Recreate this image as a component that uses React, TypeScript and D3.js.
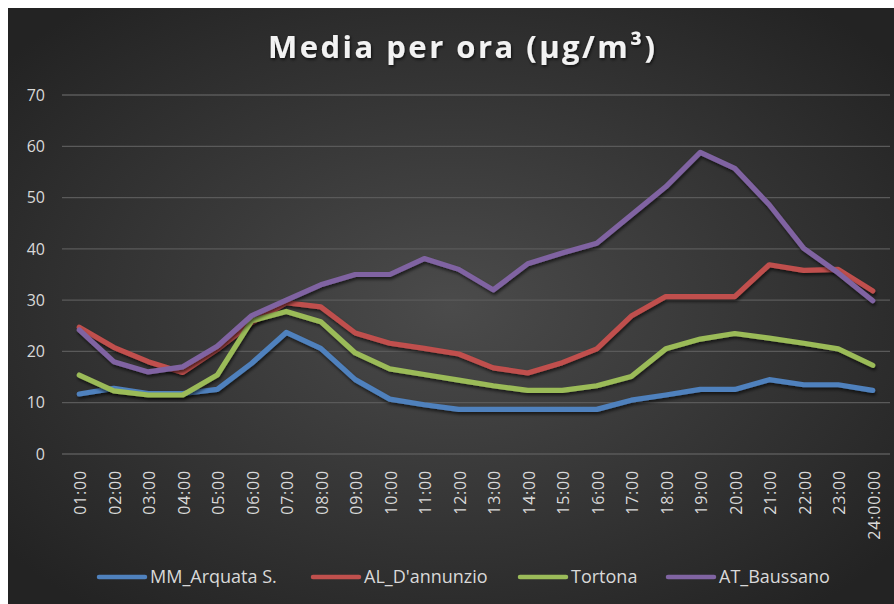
import React from "react";
import * as d3 from "d3";

const hours = ["01:00","02:00","03:00","04:00","05:00","06:00","07:00","08:00","09:00","10:00","11:00","12:00","13:00","14:00","15:00","16:00","17:00","18:00","19:00","20:00","21:00","22:00","23:00","24:00:00"];
const seriesNames = ["MM_Arquata S.", "AL_D'annunzio", "Tortona", "AT_Baussano"];
const seriesColors = ["#4F81BD", "#C0504D", "#9BBB59", "#8064A2"];
const arquata = [11.7,12.8,11.8,11.8,12.6,17.7,23.7,20.6,14.5,10.7,9.6,8.7,8.7,8.7,8.7,8.7,10.5,11.5,12.6,12.6,14.5,13.5,13.5,12.4];
const dannunzio = [24.7,20.8,18,15.9,20.4,25.6,29.5,28.7,23.6,21.6,20.6,19.5,16.8,15.8,17.8,20.5,26.9,30.7,30.7,30.7,36.9,35.8,36,31.8];
const tortona = [15.4,12.3,11.5,11.5,15.4,26,27.8,25.8,19.7,16.6,15.5,14.4,13.3,12.4,12.4,13.3,15.1,20.5,22.4,23.5,22.6,21.6,20.5,17.3];
const baussano = [24.2,18,16,17,21,27,30,33,35,35,38.1,36,32,37.1,39.2,41.1,46.6,52.1,58.8,55.7,48.6,40.1,35.3,29.9];
const yTicks = [0,10,20,30,40,50,60,70];
const legendX = [99, 313, 520, 668];

const W = 894, H = 604;

export default function App() {
  const allSeries = [arquata, dannunzio, tortona, baussano];
  const x = d3.scaleBand<string>().domain(hours).range([62, 890]).padding(0);
  const y = d3.scaleLinear().domain([0, 70]).range([454, 95]);
  const cx = (h: string) => (x(h) as number) + x.bandwidth() / 2;
  const line = d3.line<number>().x((_, i) => cx(hours[i])).y((v) => y(v));
  const font = "'Open Sans', Lato, sans-serif";
  return (
    <svg width={W} height={H} style={{ position: "absolute", left: 0, top: 0 }}>
      <defs>
        <radialGradient id="bg" cx="50%" cy="50%" r="65%">
          <stop offset="0%" stopColor="#4b4b4b" />
          <stop offset="100%" stopColor="#232323" />
        </radialGradient>
        <filter id="sh" x="-10%" y="-10%" width="120%" height="130%">
          <feDropShadow dx="1" dy="2.5" stdDeviation="1.8" floodColor="#000" floodOpacity="0.6" />
        </filter>
        <filter id="tsh" x="-10%" y="-30%" width="120%" height="160%">
          <feDropShadow dx="1" dy="1.5" stdDeviation="1.5" floodColor="#000" floodOpacity="0.7" />
        </filter>
      </defs>
      <rect x={0} y={0} width={W} height={H} fill="#fff" />
      <rect x={8} y={8} width={W - 8} height={H - 8} fill="url(#bg)" />
      <text x={461.5} y={58} textAnchor="middle" fill="#f2f2f2" fontFamily={font} fontWeight="bold" fontSize={31}
        textLength={387} lengthAdjust="spacing" filter="url(#tsh)">
        Media per ora (µg/m³)
      </text>
      {yTicks.map((t) => (
        <g key={t}>
          <line x1={62} x2={890} y1={y(t)} y2={y(t)} stroke="#5a5a5a" strokeWidth={1.3} />
          <text x={45} y={y(t)} dy="0.36em" textAnchor="end" fill="#d9d9d9" fontFamily={font} fontSize={16}>{t}</text>
        </g>
      ))}
      {hours.map((h) => (
        <text key={h} transform={`translate(${cx(h) + 1},470) rotate(-90)`} dy="0.36em" textAnchor="end"
          fill="#d9d9d9" fontFamily={font} fontSize={16} letterSpacing={0.8}>{h}</text>
      ))}
      {allSeries.map((s, k) => (
        <path key={k} d={line(s) as string} fill="none" stroke={seriesColors[k]} strokeWidth={5.2}
          strokeLinejoin="round" strokeLinecap="round" filter="url(#sh)" />
      ))}
      {seriesNames.map((n, k) => (
        <g key={n}>
          <line x1={legendX[k]} x2={legendX[k] + 46} y1={577} y2={577} stroke={seriesColors[k]} strokeWidth={4.5} strokeLinecap="round" />
          <text x={legendX[k] + 51} y={577} dy="0.36em" fill="#d9d9d9" fontFamily={font} fontSize={18}>{n}</text>
        </g>
      ))}
    </svg>
  );
}
